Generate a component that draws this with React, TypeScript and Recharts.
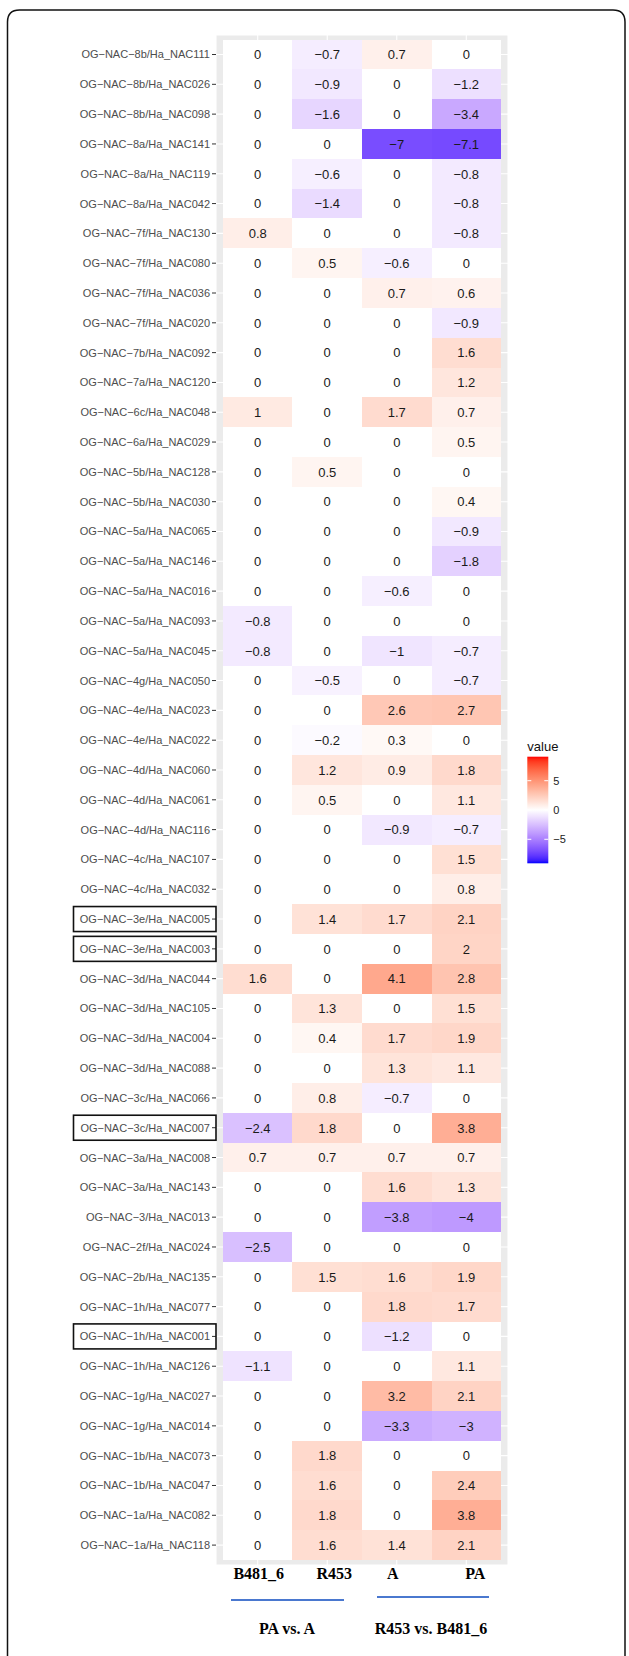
import React from 'react';
import { BarChart, Bar, XAxis, YAxis, CartesianGrid } from 'recharts';

// ---------------- data ----------------
const genes = [
  'OG-NAC-8b/Ha_NAC111', 'OG-NAC-8b/Ha_NAC026', 'OG-NAC-8b/Ha_NAC098', 'OG-NAC-8a/Ha_NAC141',
  'OG-NAC-8a/Ha_NAC119', 'OG-NAC-8a/Ha_NAC042', 'OG-NAC-7f/Ha_NAC130', 'OG-NAC-7f/Ha_NAC080',
  'OG-NAC-7f/Ha_NAC036', 'OG-NAC-7f/Ha_NAC020', 'OG-NAC-7b/Ha_NAC092', 'OG-NAC-7a/Ha_NAC120',
  'OG-NAC-6c/Ha_NAC048', 'OG-NAC-6a/Ha_NAC029', 'OG-NAC-5b/Ha_NAC128', 'OG-NAC-5b/Ha_NAC030',
  'OG-NAC-5a/Ha_NAC065', 'OG-NAC-5a/Ha_NAC146', 'OG-NAC-5a/Ha_NAC016', 'OG-NAC-5a/Ha_NAC093',
  'OG-NAC-5a/Ha_NAC045', 'OG-NAC-4g/Ha_NAC050', 'OG-NAC-4e/Ha_NAC023', 'OG-NAC-4e/Ha_NAC022',
  'OG-NAC-4d/Ha_NAC060', 'OG-NAC-4d/Ha_NAC061', 'OG-NAC-4d/Ha_NAC116', 'OG-NAC-4c/Ha_NAC107',
  'OG-NAC-4c/Ha_NAC032', 'OG-NAC-3e/Ha_NAC005', 'OG-NAC-3e/Ha_NAC003', 'OG-NAC-3d/Ha_NAC044',
  'OG-NAC-3d/Ha_NAC105', 'OG-NAC-3d/Ha_NAC004', 'OG-NAC-3d/Ha_NAC088', 'OG-NAC-3c/Ha_NAC066',
  'OG-NAC-3c/Ha_NAC007', 'OG-NAC-3a/Ha_NAC008', 'OG-NAC-3a/Ha_NAC143', 'OG-NAC-3/Ha_NAC013',
  'OG-NAC-2f/Ha_NAC024', 'OG-NAC-2b/Ha_NAC135', 'OG-NAC-1h/Ha_NAC077', 'OG-NAC-1h/Ha_NAC001',
  'OG-NAC-1h/Ha_NAC126', 'OG-NAC-1g/Ha_NAC027', 'OG-NAC-1g/Ha_NAC014', 'OG-NAC-1b/Ha_NAC073',
  'OG-NAC-1b/Ha_NAC047', 'OG-NAC-1a/Ha_NAC082', 'OG-NAC-1a/Ha_NAC118',
];

const valB481_6 = [
  0, 0, 0, 0, 0, 0, 0.8, 0, 0, 0, 0, 0, 1, 0, 0, 0, 0, 0, 0, -0.8, -0.8, 0, 0, 0, 0, 0,
  0, 0, 0, 0, 0, 1.6, 0, 0, 0, 0, -2.4, 0.7, 0, 0, -2.5, 0, 0, 0, -1.1, 0, 0, 0, 0, 0, 0,
];
const valR453 = [
  -0.7, -0.9, -1.6, 0, -0.6, -1.4, 0, 0.5, 0, 0, 0, 0, 0, 0, 0.5, 0, 0, 0, 0, 0, 0, -0.5, 0, -0.2, 1.2, 0.5,
  0, 0, 0, 1.4, 0, 0, 1.3, 0.4, 0, 0.8, 1.8, 0.7, 0, 0, 0, 1.5, 0, 0, 0, 0, 0, 1.8, 1.6, 1.8, 1.6,
];
const valA = [
  0.7, 0, 0, -7, 0, 0, 0, -0.6, 0.7, 0, 0, 0, 1.7, 0, 0, 0, 0, 0, -0.6, 0, -1, 0, 2.6, 0.3, 0.9, 0,
  -0.9, 0, 0, 1.7, 0, 4.1, 0, 1.7, 1.3, -0.7, 0, 0.7, 1.6, -3.8, 0, 1.6, 1.8, -1.2, 0, 3.2, -3.3, 0, 0, 0, 1.4,
];
const valPA = [
  0, -1.2, -3.4, -7.1, -0.8, -0.8, -0.8, 0, 0.6, -0.9, 1.6, 1.2, 0.7, 0.5, 0, 0.4, -0.9, -1.8, 0, 0, -0.7, -0.7, 2.7, 0, 1.8, 1.1,
  -0.7, 1.5, 0.8, 2.1, 2, 2.8, 1.5, 1.9, 1.1, 0, 3.8, 0.7, 1.3, -4, 0, 1.9, 1.7, 0, 1.1, 2.1, -3, 0, 2.4, 3.8, 2.1,
];

const columns = ['B481_6', 'R453', 'A', 'PA'];
const columnValues = [valB481_6, valR453, valA, valPA];
const columnTicks = [0.5, 1.5, 2.5, 3.5];

const boxedGenes = ['OG-NAC-3e/Ha_NAC005', 'OG-NAC-3e/Ha_NAC003', 'OG-NAC-3c/Ha_NAC007', 'OG-NAC-1h/Ha_NAC001'];

const groupLabels = ['PA vs. A', 'R453 vs. B481_6'];
const legendTicks = [5, 0, -5];
const LIMIT = 9.1;

// --------------- styling helpers ---------------
const W = 629;
const H = 1656;
const SANS = "'Liberation Sans', Arial, Helvetica, sans-serif";
const SERIF = "'Liberation Serif', 'Times New Roman', Times, serif";
const colLabelNudge = [1, 7, -4, 9];

const minus = (s: string) => s.replace(/-/g, '\u2212');
const fmt = (v: number) => (v < 0 ? '\u2212' + String(Math.abs(v)) : String(v));

function toLin(c: number) {
  c /= 255;
  return c <= 0.04045 ? c / 12.92 : Math.pow((c + 0.055) / 1.055, 2.4);
}
function fromLin(c: number) {
  c = Math.max(0, Math.min(1, c));
  return 255 * (c <= 0.0031308 ? 12.92 * c : 1.055 * Math.pow(c, 1 / 2.4) - 0.055);
}
function rgbToLab(rgb: number[]) {
  const R = toLin(rgb[0]), G = toLin(rgb[1]), B = toLin(rgb[2]);
  const X = (0.4124 * R + 0.3576 * G + 0.1805 * B) / 0.95047;
  const Y = 0.2126 * R + 0.7152 * G + 0.0722 * B;
  const Z = (0.0193 * R + 0.1192 * G + 0.9505 * B) / 1.08883;
  const f = (t: number) => (t > 0.008856 ? Math.cbrt(t) : 7.787 * t + 16 / 116);
  const fx = f(X), fy = f(Y), fz = f(Z);
  return [116 * fy - 16, 500 * (fx - fy), 200 * (fy - fz)];
}
function labToRgb(lab: number[]) {
  const fy = (lab[0] + 16) / 116;
  const fx = fy + lab[1] / 500;
  const fz = fy - lab[2] / 200;
  const inv = (t: number) => (t * t * t > 0.008856 ? t * t * t : (t - 16 / 116) / 7.787);
  const X = inv(fx) * 0.95047, Y = inv(fy), Z = inv(fz) * 1.08883;
  const R = 3.2406 * X - 1.5372 * Y - 0.4986 * Z;
  const G = -0.9689 * X + 1.8758 * Y + 0.0415 * Z;
  const B = 0.0557 * X - 0.204 * Y + 1.057 * Z;
  return [fromLin(R), fromLin(G), fromLin(B)];
}
const LAB_LOW = rgbToLab([0, 0, 255]);
const LAB_MID = rgbToLab([255, 255, 255]);
const LAB_HIGH = rgbToLab([255, 0, 0]);
function fillFor(v: number) {
  const t = Math.min(1, Math.abs(v) / LIMIT);
  const end = v >= 0 ? LAB_HIGH : LAB_LOW;
  const lab = LAB_MID.map((m, i) => m + t * (end[i] - m));
  const rgb = labToRgb(lab).map((c) => Math.round(c));
  return `rgb(${rgb[0]},${rgb[1]},${rgb[2]})`;
}

// rows for the chart
const rows = genes.map((gene, i) => {
  const row: any = { gene, values: columnValues.map((col) => col[i]) };
  columns.forEach((c) => {
    row[c] = 1;
  });
  return row;
});

const makeShape = (col: number) => (props: any) => {
  const { x, y, width, height, payload } = props;
  const v = payload.values[col];
  return (
    <g>
      <rect x={x} y={y} width={width} height={height} fill={fillFor(v)} shapeRendering="crispEdges" />
      <text
        x={x + width / 2}
        y={y + height / 2}
        dy="0.36em"
        textAnchor="middle"
        fontSize={13}
        fontFamily={SANS}
        fill="#1a1a1a"
      >
        {fmt(v)}
      </text>
    </g>
  );
};

const GeneTick = (props: any) => {
  const { x, y, payload } = props;
  const boxed = boxedGenes.includes(payload.value);
  return (
    <g>
      {boxed && (
        <rect x={x - 136.5} y={y - 12.5} width={142.5} height={25} fill="none" stroke="#111" strokeWidth={1.6} />
      )}
      <text x={x} y={y} dy="0.36em" textAnchor="end" fontSize={11} fontFamily={SANS} fill="#4d4d4d">
        {minus(payload.value)}
      </text>
    </g>
  );
};

const ColTick = (props: any) => {
  const { x, y, payload } = props;
  const idx = columnTicks.indexOf(payload.value);
  return (
    <text
      x={x + colLabelNudge[idx]}
      y={y + 14}
      textAnchor="middle"
      fontSize={16}
      fontWeight="bold"
      fontFamily={SERIF}
      fill="#000"
    >
      {columns[idx]}
    </text>
  );
};

// legend geometry
const LEG_X = 527.3;
const LEG_TOP = 756.7;
const LEG_W = 21;
const LEG_H = 106.6;
const legY = (v: number) => LEG_TOP + ((LIMIT - v) / (2 * LIMIT)) * LEG_H;
const gradStops = Array.from({ length: 41 }, (_, i) => i / 40);

export default function App() {
  return (
    <div style={{ position: 'absolute', left: 0, top: 0, width: W, height: H, background: '#fff', overflow: 'hidden' }}>
      <BarChart
        width={W}
        height={H}
        data={rows}
        layout="vertical"
        margin={{ top: 35, right: 121, bottom: 51, left: 0 }}
        barCategoryGap={0}
        barGap={0}
      >
        <CartesianGrid fill="#EBEBEB" stroke="#FFFFFF" strokeWidth={1.1} />
        <XAxis
          type="number"
          domain={[-0.1, 4.1]}
          ticks={columnTicks}
          interval={0}
          allowDataOverflow
          tick={<ColTick />}
          tickLine={false}
          axisLine={false}
          tickSize={0}
          tickMargin={0}
          height={40}
        />
        <YAxis
          type="category"
          dataKey="gene"
          width={216}
          interval={0}
          tick={<GeneTick />}
          tickSize={4}
          tickMargin={2}
          tickLine={{ stroke: '#333', strokeWidth: 1 }}
          axisLine={false}
          padding={{ top: 4.6, bottom: 5 }}
        />
        {columns.map((c, i) => (
          <Bar key={c} dataKey={c} stackId="cells" isAnimationActive={false} shape={makeShape(i)} />
        ))}
      </BarChart>

      <svg
        width={W}
        height={H}
        style={{ position: 'absolute', left: 0, top: 0, pointerEvents: 'none' }}
      >
        <defs>
          <linearGradient id="legGrad" x1="0" y1="0" x2="0" y2="1">
            {gradStops.map((o) => (
              <stop key={o} offset={o} stopColor={fillFor(LIMIT - o * 2 * LIMIT)} />
            ))}
          </linearGradient>
        </defs>
        {/* frame */}
        <path
          d={`M 7.5 1670 L 7.5 22 Q 7.5 10 19.5 10 L 613 10 Q 625 10 625 22 L 625 1670`}
          fill="none"
          stroke="#111"
          strokeWidth={1.5}
        />
        {/* legend */}
        <text x={LEG_X} y={750.5} fontSize={13} fontFamily={SANS} fill="#111">
          value
        </text>
        <rect x={LEG_X} y={LEG_TOP} width={LEG_W} height={LEG_H} fill="url(#legGrad)" />
        {legendTicks.map((t) => (
          <g key={t}>
            <line x1={LEG_X} x2={LEG_X + 4} y1={legY(t)} y2={legY(t)} stroke="#fff" strokeWidth={1} />
            <line x1={LEG_X + LEG_W - 4} x2={LEG_X + LEG_W} y1={legY(t)} y2={legY(t)} stroke="#fff" strokeWidth={1} />
            <text x={LEG_X + LEG_W + 5} y={legY(t)} dy="0.36em" fontSize={11} fontFamily={SANS} fill="#222">
              {fmt(t)}
            </text>
          </g>
        ))}
        {/* comparison groups */}
        <line x1={231} x2={344} y1={1600} y2={1600} stroke="#4a78cf" strokeWidth={2} />
        <line x1={377} x2={489} y1={1597} y2={1597} stroke="#4a78cf" strokeWidth={2} />
        <text x={287} y={1634} textAnchor="middle" fontSize={16} fontWeight="bold" fontFamily={SERIF} fill="#000">
          {groupLabels[0]}
        </text>
        <text x={431} y={1634} textAnchor="middle" fontSize={16} fontWeight="bold" fontFamily={SERIF} fill="#000">
          {groupLabels[1]}
        </text>
      </svg>
    </div>
  );
}
